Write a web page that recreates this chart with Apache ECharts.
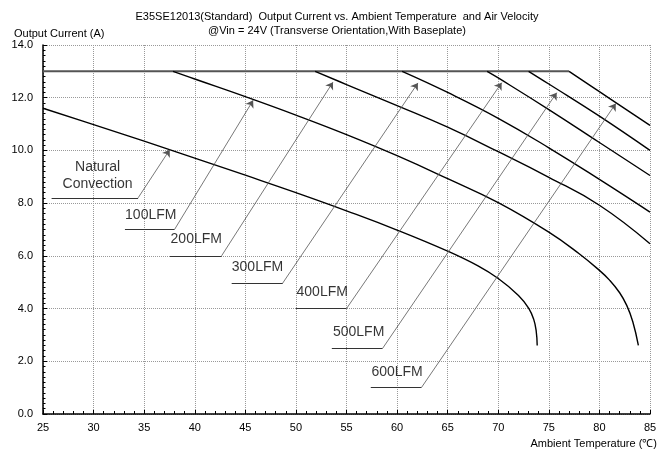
<!DOCTYPE html>
<html>
<head>
<meta charset="utf-8">
<script src="https://cdn.jsdelivr.net/npm/echarts@6/dist/echarts.min.js"></script>
<style>
html,body{margin:0;padding:0;background:#fff;}
#chart{width:669px;height:452px;}
</style>
</head>
<body>
<div id="chart"></div>
<script>
// ---- Data ----
const xTicks = [25, 85, 5];          // min, max, step (°C)
const yTicks = [0, 14, 2];           // min, max, step (A)

const flatTemp = [25, 77];
const flatCurrent = [13, 13];

const ncTemp    = [25, 30, 35, 40, 45, 50, 55, 60, 65, 68, 70, 72, 73, 73.5, 73.75, 73.85];
const ncCurrent = [11.6, 10.98, 10.35, 9.71, 9.06, 8.4, 7.71, 6.98, 6.18, 5.62, 5.14, 4.5, 4.02, 3.6, 3.15, 2.6];

const lfm100Temp    = [37.85, 40, 45, 50, 55, 60, 65, 70, 75, 78, 80, 81, 82, 82.7, 83.3, 83.85];
const lfm100Current = [13, 12.71, 12.04, 11.34, 10.6, 9.8, 8.93, 8.02, 6.9, 6.08, 5.45, 5.08, 4.6, 4.12, 3.5, 2.6];

const lfm200Temp    = [51.9, 55, 60, 65, 70, 75, 80, 85];
const lfm200Current = [13, 12.5, 11.7, 10.88, 9.95, 8.98, 7.92, 6.46];

const lfm300Temp    = [60.5, 65, 70, 75, 80, 85];
const lfm300Current = [13, 12.2, 11.22, 10.1, 8.9, 7.66];

const lfm400Temp    = [68.9, 70, 75, 80, 85];
const lfm400Current = [13, 12.75, 11.55, 10.3, 9.05];

const lfm500Temp    = [73, 75, 80, 85];
const lfm500Current = [13, 12.52, 11.3, 10.0];

const lfm600Temp    = [77, 80, 85];
const lfm600Current = [13, 12.23, 10.95];

const labelNames = ['Natural\nConvection', '100LFM', '200LFM', '300LFM', '400LFM', '500LFM', '600LFM'];
const labelX = [30.4, 35.65, 40.15, 46.2, 52.6, 56.2, 60.0];
const labelY = [9.03, 7.54, 6.62, 5.58, 4.61, 3.11, 1.57];
const underlineStart = [25.85, 33.1, 37.55, 43.65, 50.0, 53.55, 57.4];
const underlineEnd   = [34.4, 38.0, 42.65, 48.7, 55.0, 58.55, 62.4];
const underlineY     = [8.2, 7.0, 6.0, 4.97, 4.0, 2.48, 1.0];
const arrowTipX = [37.53, 45.77, 53.66, 62.06, 70.34, 75.78, 81.62];
const arrowTipY = [10.03, 11.9, 12.59, 12.56, 12.57, 12.19, 11.78];

// ---- Build ----
const FONT = 'Arial, "Liberation Sans", sans-serif';
const zip = (a, b) => a.map((v, i) => [v, b[i]]);

const curves = [
  [ncTemp, ncCurrent], [lfm100Temp, lfm100Current], [lfm200Temp, lfm200Current],
  [lfm300Temp, lfm300Current], [lfm400Temp, lfm400Current], [lfm500Temp, lfm500Current],
  [lfm600Temp, lfm600Current]
];

const series = [];
series.push({
  type: 'line', data: zip(flatTemp, flatCurrent), symbol: 'none', silent: true,
  lineStyle: { color: '#555', width: 2 }, z: 3
});
curves.forEach(c => {
  series.push({
    type: 'line', data: zip(c[0], c[1]), symbol: 'none', silent: true,
    smooth: 0.45,
    lineStyle: { color: '#000', width: 1.4 }, z: 3
  });
});
series.push({
  type: 'lines', coordinateSystem: 'cartesian2d', silent: true,
  symbol: ['none', 'none'],
  lineStyle: { color: '#333', width: 1.2, opacity: 1 },
  data: underlineStart.map((s, i) => ({ coords: [[s, underlineY[i]], [underlineEnd[i], underlineY[i]]] })),
  z: 4
});
series.push({
  type: 'lines', coordinateSystem: 'cartesian2d', silent: true,
  symbol: ['none', 'arrow'], symbolSize: [0, 7],
  lineStyle: { color: '#555', width: 0.8, opacity: 1 },
  data: underlineEnd.map((s, i) => ({ coords: [[s, underlineY[i]], [arrowTipX[i], arrowTipY[i]]] })),
  z: 4
});
series.push({
  type: 'scatter', silent: true, symbolSize: 1,
  itemStyle: { color: 'transparent' },
  data: labelNames.map((n, i) => ({ name: n, value: [labelX[i], labelY[i]] })),
  label: {
    show: true, position: 'inside', formatter: p => p.name,
    color: '#000', fontSize: 14, fontFamily: FONT, lineHeight: 17, align: 'center', verticalAlign: 'middle'
  },
  z: 5
});

const chart = echarts.init(document.getElementById('chart'), null, { renderer: 'canvas' });
chart.setOption({
  animation: false,
  backgroundColor: '#fff',
  title: [
    {
      text: 'E35SE12013(Standard)  Output Current vs. Ambient Temperature  and Air Velocity\n@Vin = 24V (Transverse Orientation,With Baseplate)',
      left: 332, top: 5, textAlign: 'center',
      textStyle: { fontSize: 11, fontWeight: 'normal', color: '#000', fontFamily: FONT, lineHeight: 14 }
    },
    {
      text: 'Output Current (A)', left: 9, top: 23,
      textStyle: { fontSize: 11, fontWeight: 'normal', color: '#000', fontFamily: FONT }
    }
  ],
  grid: { left: 43, right: 19, top: 45, bottom: 38, containLabel: false },
  xAxis: {
    type: 'value', min: xTicks[0], max: xTicks[1], interval: xTicks[2],
    name: 'Ambient Temperature (℃)', nameLocation: 'end', nameGap: 7,
    nameTextStyle: { fontSize: 11, color: '#000', fontFamily: FONT, align: 'right', verticalAlign: 'top', padding: [24, 0, 0, 0] },
    axisLine: { lineStyle: { color: '#000', width: 1.5 } },
    axisTick: { inside: true, length: 4, lineStyle: { color: '#000' } },
    minorTick: { show: true, splitNumber: 5, length: 3, lineStyle: { color: '#000' } },
    axisLabel: { fontSize: 11, color: '#000', fontFamily: FONT, margin: 8 },
    splitLine: { show: true, lineStyle: { color: '#999', type: [1, 1], width: 1 } }
  },
  yAxis: {
    type: 'value', min: yTicks[0], max: yTicks[1], interval: yTicks[2],
    axisLine: { show: true, lineStyle: { color: '#000', width: 1.5 } },
    axisTick: { show: true, inside: true, length: 4, lineStyle: { color: '#000' } },
    minorTick: { show: true, splitNumber: 10, length: 2.5, lineStyle: { color: '#000' } },
    axisLabel: { fontSize: 11, color: '#000', fontFamily: FONT, margin: 10, formatter: v => v.toFixed(1) },
    splitLine: { show: true, lineStyle: { color: '#999', type: [1, 1], width: 1 } }
  },
  series: series
});
</script>
</body>
</html>
